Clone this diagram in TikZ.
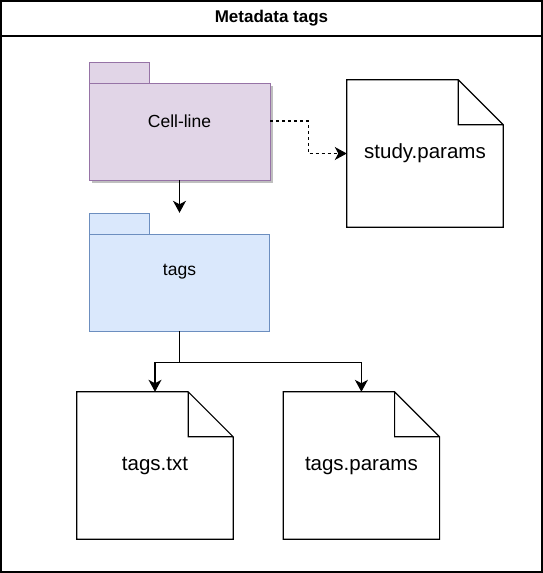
\documentclass[tikz,border=0pt]{standalone}
\usepackage{fontspec}
\setmainfont{Liberation Sans}
\usepackage[usenames,dvipsnames]{xcolor}
\usetikzlibrary{arrows.meta,calc,fit,positioning,shadows}
\definecolor{cellfill}{HTML}{E1D5E7}
\definecolor{celldraw}{HTML}{9673A6}
\definecolor{tagsfill}{HTML}{DAE8FC}
\definecolor{tagsdraw}{HTML}{6C8EBF}
\tikzset{
	docfold/.store in=\docfold,
	docfold=45pt,
	docfile/.style={
		minimum width=156pt,minimum height=147pt,inner sep=0pt,
		font=\fontsize{20.5}{24}\selectfont,
		prefix after command={\pgfextra{\let\fixname\tikzlastnode}},
		append after command={\pgfextra{\draw[line width=1.2pt,line join=miter]
			(\fixname.north west) -- ([xshift=-\docfold]\fixname.north east)
			-- ([yshift=-\docfold]\fixname.north east) -- (\fixname.south east)
			-- (\fixname.south west) -- cycle
			([xshift=-\docfold]\fixname.north east) |- ([yshift=-\docfold]\fixname.north east);
		}}},
	pkgbody/.style={draw=#1draw,fill=#1fill,line width=1pt,inner sep=0pt,outer sep=0pt,
		minimum width=181pt,minimum height=97pt},
	pkgtab/.style={draw=#1draw,fill=#1fill,line width=1pt,inner sep=0pt,outer sep=0pt,
		minimum width=60pt,minimum height=21pt,anchor=south west},
	pkglabel/.style={inner sep=0pt,font=\fontsize{17.5}{20}\selectfont},
	ar/.style={line width=1.1pt,-{Stealth[length=12pt,width=13pt,inset=3.5pt]}}
}

\begin{document}
\begin{tikzpicture}[x=1pt,y=-1pt,node distance=50pt and 50pt]
      \useasboundingbox (0,0) rectangle (543,573);
      \node [draw,line width=2pt,outer sep=0pt,minimum width=541pt,minimum height=571pt] (frame) at (271.5,286.5) {};
      \node [draw,line width=2pt,outer sep=0pt,minimum width=541pt,minimum height=35pt,anchor=north,
         font=\bfseries\fontsize{17}{20}\selectfont] (title) at (frame.north) {Metadata tags};
      % packages
      \node [pkgbody=cell,drop shadow={shadow xshift=3pt,shadow yshift=-3pt,fill=black,opacity=.25}] (CLbody) at (179.5,131.5) {};
      \node [pkgtab=cell] (CLtab) at (CLbody.north west) {};
      \node [fit=(CLbody)(CLtab),inner sep=0pt,label={[pkglabel]center:Cell-line}] (CL) {};
      \node [pkgbody=tags,below=54pt of CLbody.south,anchor=north,minimum width=180pt] (tagsbody) {};
      \node [pkgtab=tags] (tagstab) at (tagsbody.north west) {};
      \node [fit=(tagsbody)(tagstab),inner sep=0pt,label={[pkglabel]center:tags}] (tags) {};
      % files
      \node [docfile] (study) at (425,153.5) {study.params};
      \node [docfile] (tagstxt) at (155,465.5) {tags.txt};
      \node [docfile,right=50pt of tagstxt] (tagsparams) {tags.params};
      % connectors
      \draw [ar] (CL.south) -- (CL.south |- tags.north);
      \draw [ar,dash pattern=on 3pt off 3pt] (CL.east) -- ++(38,0) |- (study.west);
      \draw [ar] (tags.south) -- ++(0,31) -| (tagstxt.north);
      \draw [ar] (tags.south) -- ++(0,31) -| (tagsparams.north);
\end{tikzpicture}
\end{document}
